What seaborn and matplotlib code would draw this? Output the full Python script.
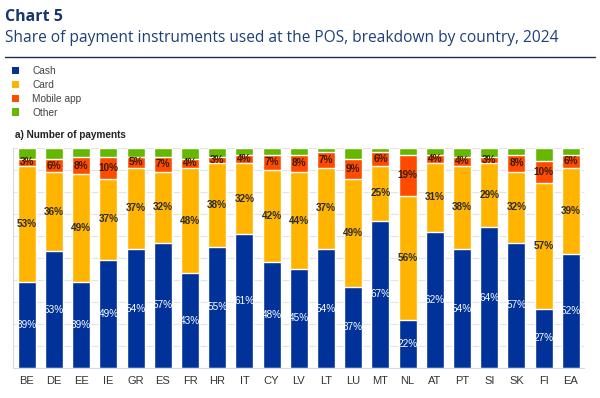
import numpy as np
import pandas as pd
import matplotlib.pyplot as plt
import seaborn as sns
from matplotlib.patches import Patch
from matplotlib.lines import Line2D

# --- data (percent of number of payments) ---
countries = ['BE', 'DE', 'EE', 'IE', 'GR', 'ES', 'FR', 'HR', 'IT', 'CY', 'LV',
             'LT', 'LU', 'MT', 'NL', 'AT', 'PT', 'SI', 'SK', 'FI', 'EA']
cash = [39, 53, 39, 49, 54, 57, 43, 55, 61, 48, 45, 54, 37, 67, 22, 62, 54, 64, 57, 27, 52]
card = [53, 36, 49, 37, 37, 32, 48, 38, 32, 42, 44, 37, 49, 25, 56, 31, 38, 29, 32, 57, 39]
mobile = [3, 6, 8, 10, 5, 7, 4, 3, 4, 7, 8, 7, 9, 6, 19, 4, 4, 3, 8, 10, 6]
other = [5, 5, 4, 4, 4, 4, 5, 4, 3, 3, 3, 2, 5, 2, 3, 3, 4, 4, 3, 6, 3]

series = ['Cash', 'Card', 'Mobile app', 'Other']
colors = {'Cash': '#003299', 'Card': '#FFB400', 'Mobile app': '#FF4B00', 'Other': '#65B800'}
label_colors = {'Cash': 'white', 'Card': '#2b2b2b', 'Mobile app': '#3a1a00'}

df = pd.DataFrame({'country': countries, 'Cash': cash, 'Card': card,
                   'Mobile app': mobile, 'Other': other})
cum = df[series].cumsum(axis=1)

sns.set_style('white')
plt.rcParams['font.family'] = ['Open Sans', 'DejaVu Sans']
arial = ['Liberation Sans', 'DejaVu Sans']

fig = plt.figure(figsize=(6.0, 3.98), dpi=100)
ax = fig.add_axes([0.022, 0.0754, 0.952, 0.5528])

# stacked bars: draw cumulative totals from the top layer down
for s in reversed(series):
    sns.barplot(x=df['country'], y=cum[s], color=colors[s], width=0.66,
                saturation=1, ax=ax, zorder=2)

# segment labels
for i, row in df.iterrows():
    base = 0
    for s in series[:3]:
        v = row[s]
        ax.text(i, base + v / 2, f'{v}%', ha='center', va='center',
                fontsize=7.2, color=label_colors[s],
                fontweight='normal' if s == 'Cash' else 'bold',
                family=arial, zorder=3)
        base += v

ax.set_xlim(-0.5, len(countries) - 0.5)
ax.set_ylim(0, 100)
ax.set_yticks(np.arange(0, 101, 10))
ax.set_yticklabels([])
ax.tick_params(axis='y', length=0)
ax.tick_params(axis='x', length=0, pad=6, labelsize=8, labelcolor='#333333')
for lab in ax.get_xticklabels():
    lab.set_family(arial)
ax.set_xlabel('')
ax.set_ylabel('')
ax.grid(axis='y', color='#e3e3e3', linewidth=0.8, zorder=0)
for side in ['top', 'right']:
    ax.spines[side].set_visible(False)
for side in ['left', 'bottom']:
    ax.spines[side].set_color('#d9d9d9')
    ax.spines[side].set_linewidth(0.8)

# titles
fig.text(0.008, 1 - 21 / 398, 'Chart 5', fontsize=11.5, fontweight='bold',
         color='#17376b', va='baseline')
fig.text(0.008, 1 - 42 / 398,
         'Share of payment instruments used at the POS, breakdown by country, 2024',
         fontsize=11.2, color='#1f3f78', va='baseline')
fig.add_artist(Line2D([0.008, 0.992], [1 - 57 / 398, 1 - 57 / 398], color='#1a2e5a',
                      linewidth=1.0, transform=fig.transFigure))

handles = [Patch(facecolor=colors[s], edgecolor='none') for s in series]
leg = fig.legend(handles, series, loc='upper left', bbox_to_anchor=(0.02, 1 - 66 / 398),
                 frameon=False, handlelength=0.7, handleheight=0.7,
                 handletextpad=1.3, labelspacing=0.38, borderaxespad=0,
                 borderpad=0, prop={'family': arial, 'size': 7.3})
for t in leg.get_texts():
    t.set_color('#444444')

fig.text(0.025, 1 - 135 / 398, 'a) Number of payments', fontsize=7.2, fontweight='bold',
         color='#222222', va='center', family=arial)

fig.savefig('out.png', dpi=100)
